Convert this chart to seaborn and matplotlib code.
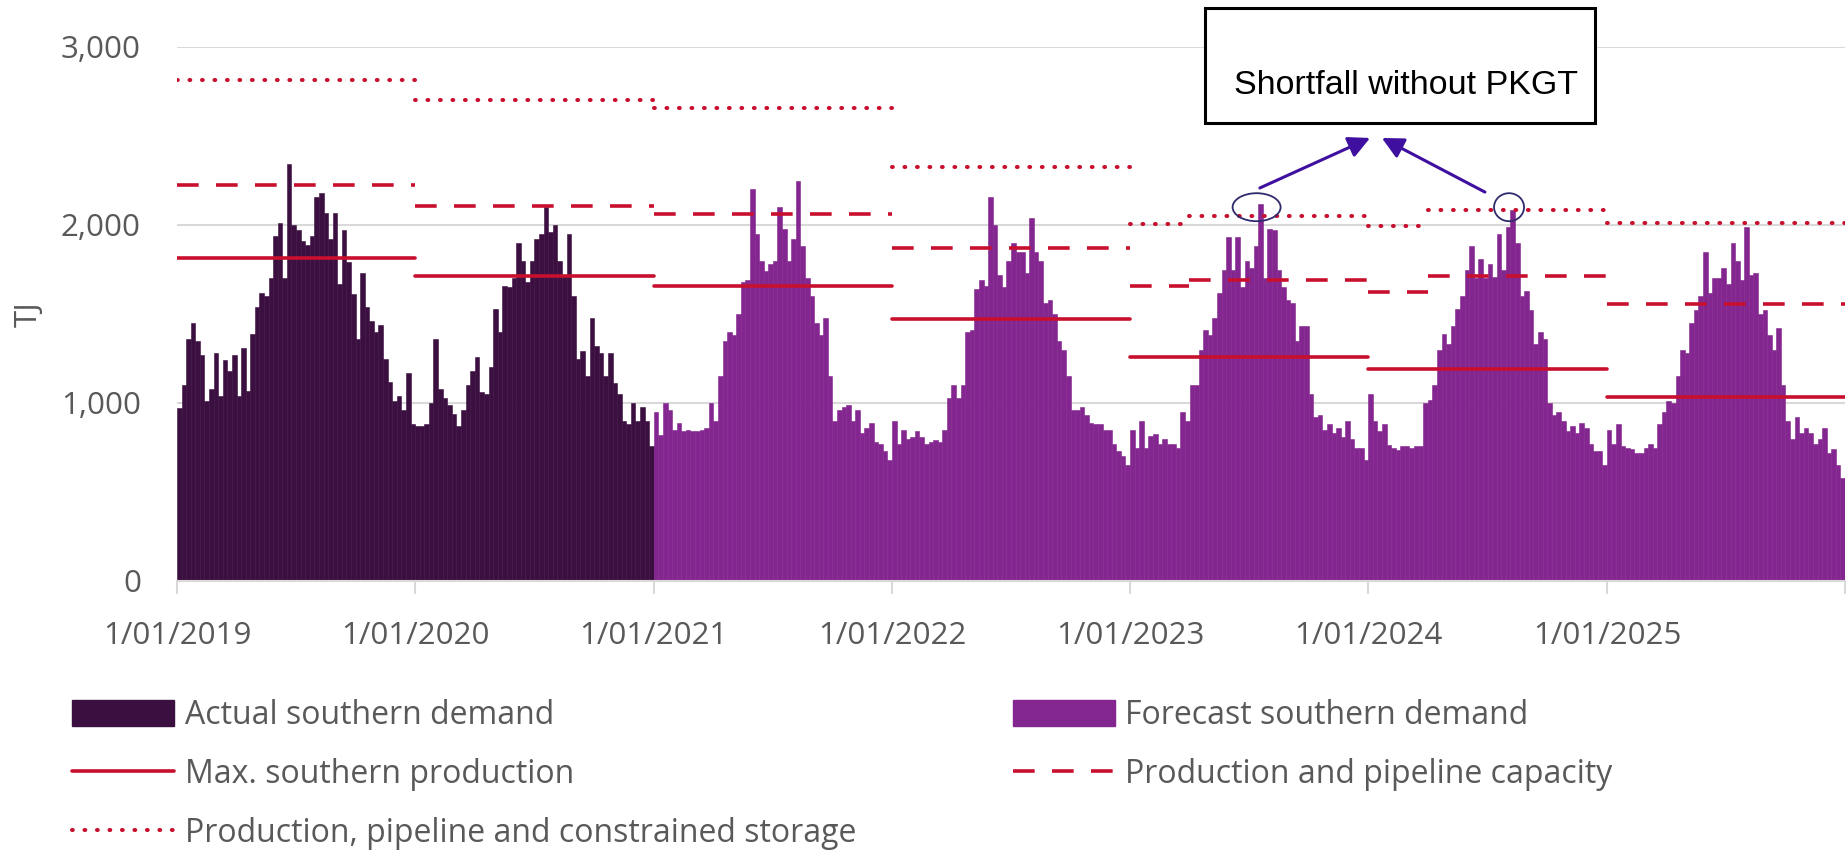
import numpy as np
import pandas as pd
import matplotlib
matplotlib.use("Agg")
import matplotlib.pyplot as plt
import matplotlib.dates as mdates
from matplotlib.patches import Ellipse, Rectangle, Patch
from matplotlib.lines import Line2D
import seaborn as sns

# weekly demand (TJ), 52 values per calendar year
years = [2019, 2020, 2021, 2022, 2023, 2024, 2025]
actual_years = [2019, 2020]

demand_2019 = [970, 1100, 1360, 1450, 1350, 1270, 1010, 1080, 1280, 1040, 1240, 1180, 1270,
               1040, 1310, 1070, 1390, 1540, 1620, 1600, 1700, 1940, 2010, 1700, 2340, 2000,
               1970, 1910, 1890, 1940, 2160, 2180, 2070, 1920, 2070, 1670, 1970, 1790, 1610,
               1360, 1730, 1540, 1460, 1400, 1440, 1250, 1120, 1010, 1040, 960, 1170, 880]
demand_2020 = [870, 870, 880, 1000, 1360, 1080, 1030, 990, 940, 870, 960, 1100, 1180,
               1260, 1060, 1050, 1200, 1530, 1400, 1660, 1650, 1700, 1900, 1800, 1680, 1800,
               1920, 1950, 2100, 1960, 2000, 1800, 1720, 1950, 1600, 1250, 1290, 1150, 1480,
               1320, 1280, 1150, 1280, 1110, 1050, 900, 880, 1000, 900, 980, 900, 760]
demand_2021 = [950, 820, 1000, 960, 850, 890, 840, 850, 840, 845, 850, 860, 1000,
               900, 1150, 1350, 1400, 1380, 1500, 1680, 1690, 2200, 1950, 1800, 1740, 1780,
               1800, 2100, 1980, 1800, 1920, 2250, 1880, 1700, 1600, 1450, 1380, 1480, 1150,
               900, 960, 980, 990, 900, 960, 830, 860, 890, 780, 770, 730, 680]
demand_2022 = [900, 770, 850, 800, 810, 840, 810, 770, 780, 790, 780, 850, 1030,
               1100, 1030, 1100, 1400, 1410, 1640, 1690, 1660, 2160, 2000, 1720, 1650, 1800,
               1900, 1850, 1850, 1730, 2040, 1850, 1800, 1560, 1580, 1500, 1350, 1300, 1150,
               960, 960, 980, 930, 890, 880, 880, 850, 850, 770, 730, 700, 650]
demand_2023 = [850, 750, 900, 750, 815, 825, 770, 795, 770, 770, 750, 950, 900,
               1100, 1100, 1300, 1410, 1380, 1480, 1620, 1750, 1930, 1750, 1930, 1650, 1800,
               1760, 1880, 2120, 1700, 1980, 1970, 1750, 1650, 1580, 1560, 1350, 1430, 1430,
               1050, 920, 930, 850, 880, 830, 860, 810, 900, 800, 745, 750, 680]
demand_2024 = [1050, 900, 845, 880, 765, 750, 735, 760, 760, 750, 760, 760, 1000,
               1015, 1100, 1300, 1390, 1330, 1430, 1530, 1600, 1750, 1880, 1700, 1810, 1700,
               1780, 1710, 1950, 1750, 1990, 2085, 1900, 1600, 1630, 1520, 1330, 1400, 1360,
               1000, 930, 950, 900, 840, 870, 830, 885, 860, 770, 730, 730, 650]
demand_2025 = [850, 770, 880, 760, 750, 740, 720, 720, 750, 770, 750, 880, 950,
               1010, 1000, 1150, 1300, 1280, 1450, 1520, 1600, 1850, 1620, 1700, 1700, 1760,
               1670, 1900, 1800, 1690, 1990, 1720, 1730, 1500, 1520, 1380, 1300, 1420, 1100,
               900, 800, 920, 830, 860, 830, 770, 800, 860, 720, 740, 650, 580]
demand = [demand_2019, demand_2020, demand_2021, demand_2022, demand_2023, demand_2024, demand_2025]

# capacity step levels (TJ/d)
max_prod_starts = ["2019-01-01", "2020-01-01", "2021-01-01", "2022-01-01", "2023-01-01", "2024-01-01", "2025-01-01"]
max_prod = [1815, 1711, 1659, 1471, 1256, 1193, 1034]
cap_starts = ["2019-01-01", "2020-01-01", "2021-01-01", "2022-01-01", "2023-01-01", "2023-04-01",
              "2024-01-01", "2024-04-01", "2025-01-01"]
pipe_cap = [2222, 2106, 2064, 1868, 1660, 1693, 1624, 1712, 1555]
storage_cap = [2814, 2700, 2659, 2325, 2008, 2048, 1996, 2086, 2010]
end_date = "2026-01-01"

c_actual = "#3b1040"
c_forecast = "#84268f"
c_red = "#c8102e"
c_text = "#595959"
c_grid = "#d9d9d9"
c_arrow = "#3f0fa0"

dash_ls = (0, (6.0, 4.8))
dot_ls = (0, (0.2, 2.9))
dot_lw = 2.9

sns.set_style("white")
plt.rcParams["font.family"] = ["Open Sans", "DejaVu Sans"]


def dnum(d):
    return mdates.date2num(pd.Timestamp(d))


# demand table, bars centred in equal slices of each year
rows = []
for yr, vals in zip(years, demand):
    ed = np.linspace(dnum(f"{yr}-01-01"), dnum(f"{yr + 1}-01-01"), len(vals) + 1)
    kind = "Actual" if yr in actual_years else "Forecast"
    for i, v in enumerate(vals):
        rows.append({"x": (ed[i] + ed[i + 1]) / 2, "TJ": v, "type": kind})
df = pd.DataFrame(rows)


def step_df(starts, vals):
    st = [dnum(d) for d in starts]
    en = st[1:] + [dnum(end_date)]
    out = []
    for k, (a, b, v) in enumerate(zip(st, en, vals)):
        out.append({"seg": k, "x": a, "TJ": v})
        out.append({"seg": k, "x": b, "TJ": v})
    return pd.DataFrame(out)


fig = plt.figure(figsize=(18.49, 8.5), dpi=100)
ax = fig.add_axes([177 / 1849, 1 - 581 / 850, 1668 / 1849, 534 / 850])

sns.barplot(data=df, x="x", y="TJ", hue="type", native_scale=True, dodge=False,
            palette={"Actual": c_actual, "Forecast": c_forecast}, width=1.0, saturation=1,
            errorbar=None, linewidth=0, legend=False, ax=ax)
for p in ax.patches:
    p.set_edgecolor(p.get_facecolor())
    p.set_linewidth(0.4)

sns.lineplot(data=step_df(max_prod_starts, max_prod), x="x", y="TJ", units="seg",
             estimator=None, color=c_red, lw=2.6, ax=ax, legend=False)
sns.lineplot(data=step_df(cap_starts, pipe_cap), x="x", y="TJ", units="seg",
             estimator=None, color=c_red, lw=2.6, linestyle=dash_ls, ax=ax, legend=False)
sns.lineplot(data=step_df(cap_starts, storage_cap), x="x", y="TJ", units="seg",
             estimator=None, color=c_red, lw=dot_lw, linestyle=dot_ls,
             dash_capstyle="round", ax=ax, legend=False)

ax.set_xlim(dnum("2019-01-01"), dnum(end_date))
ax.set_ylim(0, 3000)
ax.set_yticks([0, 1000, 2000, 3000])
ax.set_yticklabels(["0", "1,000", "2,000", "3,000"])
tick_years = years + [2026]
ax.set_xticks([dnum(f"{y}-01-01") for y in tick_years])
ax.set_xticklabels([f"1/01/{y}" for y in years] + [""])
ax.yaxis.grid(True, color=c_grid, lw=1.5)
ax.xaxis.grid(False)
ax.set_axisbelow(True)
for s in ["top", "right", "left"]:
    ax.spines[s].set_visible(False)
ax.spines["bottom"].set_color(c_grid)
ax.spines["bottom"].set_linewidth(1.5)
ax.tick_params(axis="x", bottom=True, length=9, width=1.5, color=c_grid, pad=20, labelsize=22.5, labelcolor=c_text)
ax.tick_params(axis="y", length=0, pad=26, labelsize=22.5, labelcolor=c_text)
ax.set_xlabel("")
ax.set_ylabel("TJ", fontsize=22.5, color=c_text, labelpad=12)

# shortfall callout
px_day = 2557 / 1668.0
px_tj = 3000 / 534.0
ax.add_patch(Ellipse((dnum("2023-07-14"), 2100), 48 * px_day, 28 * px_tj, fill=False,
                     ec="#2e2a6b", lw=1.3, zorder=5, clip_on=False))
ax.add_patch(Ellipse((dnum("2024-08-04"), 2100), 30 * px_day, 28 * px_tj, fill=False,
                     ec="#2e2a6b", lw=1.3, zorder=5, clip_on=False))
arrows = [((dnum("2023-07-19"), 2208), (dnum("2024-01-04"), 2489)),
          ((dnum("2024-06-28"), 2185), (dnum("2024-01-22"), 2489))]
for tail, tip in arrows:
    ax.annotate("", xy=tip, xytext=tail, annotation_clip=False,
                arrowprops=dict(arrowstyle="-|>,head_length=1.3,head_width=0.65",
                                color=c_arrow, lw=2.2, shrinkA=0, shrinkB=0))

fig.patches.append(Rectangle((1205 / 1849, 1 - 123 / 850), 390 / 1849, 115 / 850,
                             transform=fig.transFigure, fill=True, fc="white",
                             ec="black", lw=2.2, zorder=10))
fig.text(1406 / 1849, 1 - 85 / 850, "Shortfall without PKGT", ha="center", va="center",
         fontsize=24.5, color="black", family=["Liberation Sans", "DejaVu Sans"], zorder=11)

handles = [
    Patch(facecolor=c_actual, edgecolor=c_actual),
    Line2D([], [], color=c_red, lw=2.6),
    Line2D([], [], color=c_red, lw=dot_lw, linestyle=dot_ls, dash_capstyle="round"),
    Patch(facecolor=c_forecast, edgecolor=c_forecast),
    Line2D([], [], color=c_red, lw=2.6, linestyle=dash_ls),
]
labels = [
    "Actual southern demand",
    "Max. southern production",
    "Production, pipeline and constrained storage",
    "Forecast southern demand",
    "Production and pipeline capacity",
]
fig.legend(handles, labels, ncol=2, loc="upper left", bbox_to_anchor=(72 / 1849, 1 - 699 / 850),
           frameon=False, fontsize=23, labelcolor=c_text, handlelength=3.2, handleheight=0.9,
           handletextpad=0.33, columnspacing=4.9, labelspacing=0.82, borderpad=0, borderaxespad=0)

fig.savefig("out.png", dpi=100)
